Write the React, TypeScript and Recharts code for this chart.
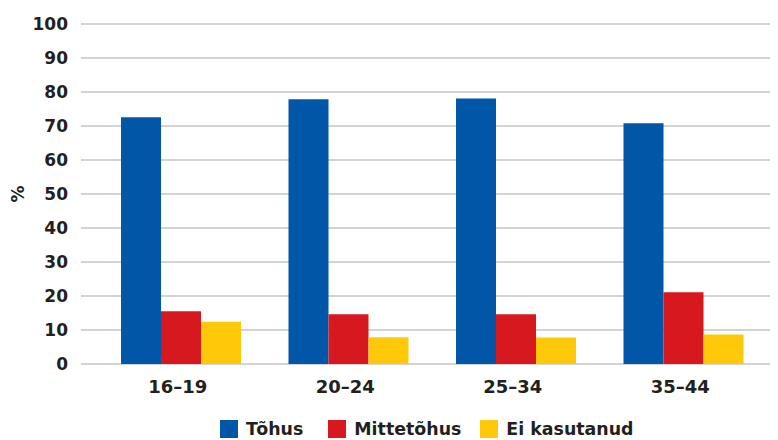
import React from 'react';
import { BarChart, Bar, XAxis, YAxis, CartesianGrid, Legend } from 'recharts';

const ageGroups = ['16–19', '20–24', '25–34', '35–44'];
const tohus = [72.6, 77.9, 78.1, 70.8];
const mittetohus = [15.5, 14.6, 14.6, 21.1];
const eiKasutanud = [12.4, 7.9, 7.8, 8.7];
const yTicks = [0, 10, 20, 30, 40, 50, 60, 70, 80, 90, 100];

const series = [
  { key: 'tohus', name: 'Tõhus', color: '#0057a8' },
  { key: 'mittetohus', name: 'Mittetõhus', color: '#d7181f' },
  { key: 'eiKasutanud', name: 'Ei kasutanud', color: '#ffc90a' },
];

const data = ageGroups.map((group, i) => ({
  group,
  tohus: tohus[i],
  mittetohus: mittetohus[i],
  eiKasutanud: eiKasutanud[i],
}));

const FONT = '"DejaVu Sans", sans-serif';
const TEXT = '#231f20';

const PercentLabel = (props: any) => {
  const { viewBox } = props;
  const cx = 10;
  const cy = viewBox.y + viewBox.height / 2;
  return (
    <text
      x={cx}
      y={cy}
      transform={`rotate(-90 ${cx} ${cy})`}
      textAnchor="middle"
      dominantBaseline="central"
      fontFamily={FONT}
      fontWeight="bold"
      fontSize={17}
      fill={TEXT}
    >
      %
    </text>
  );
};

const LegendContent = () => (
  <div style={{ display: 'flex', alignItems: 'center', paddingLeft: 212, height: 18 }}>
    {series.map((s, i) => (
      <div key={s.key} style={{ display: 'flex', alignItems: 'center', marginRight: i === 0 ? 25 : 19 }}>
        <span style={{ width: 18, height: 18, background: s.color, display: 'inline-block', marginRight: 8 }} />
        <span style={{ fontFamily: FONT, fontWeight: 'bold', fontSize: 17.4, color: TEXT, lineHeight: '18px' }}>
          {s.name}
        </span>
      </div>
    ))}
  </div>
);

export default function App() {
  return (
    <BarChart
      width={770}
      height={432}
      data={data}
      margin={{ top: 16, right: 0, bottom: 2, left: 0 }}
      barGap={0}
    >
      <CartesianGrid vertical={false} stroke="#c4c4c4" strokeWidth={1.5} />
      <XAxis
        dataKey="group"
        height={56}
        padding={{ left: 16, right: 11 }}
        axisLine={false}
        tickLine={false}
        tickSize={0}
        tickMargin={16}
        tick={{ fontFamily: FONT, fontWeight: 'bold', fontSize: 18, fill: TEXT, dx: -3 }}
      />
      <YAxis
        width={73}
        domain={[0, 100]}
        ticks={yTicks}
        interval={0}
        axisLine={false}
        tickLine={false}
        tickSize={0}
        tickMargin={13}
        tick={{ fontFamily: FONT, fontWeight: 'bold', fontSize: 17, fill: TEXT }}
        label={<PercentLabel />}
      />
      <Legend verticalAlign="bottom" content={<LegendContent />} />
      {series.map((s) => (
        <Bar key={s.key} dataKey={s.key} name={s.name} fill={s.color} barSize={40} isAnimationActive={false} />
      ))}
    </BarChart>
  );
}
